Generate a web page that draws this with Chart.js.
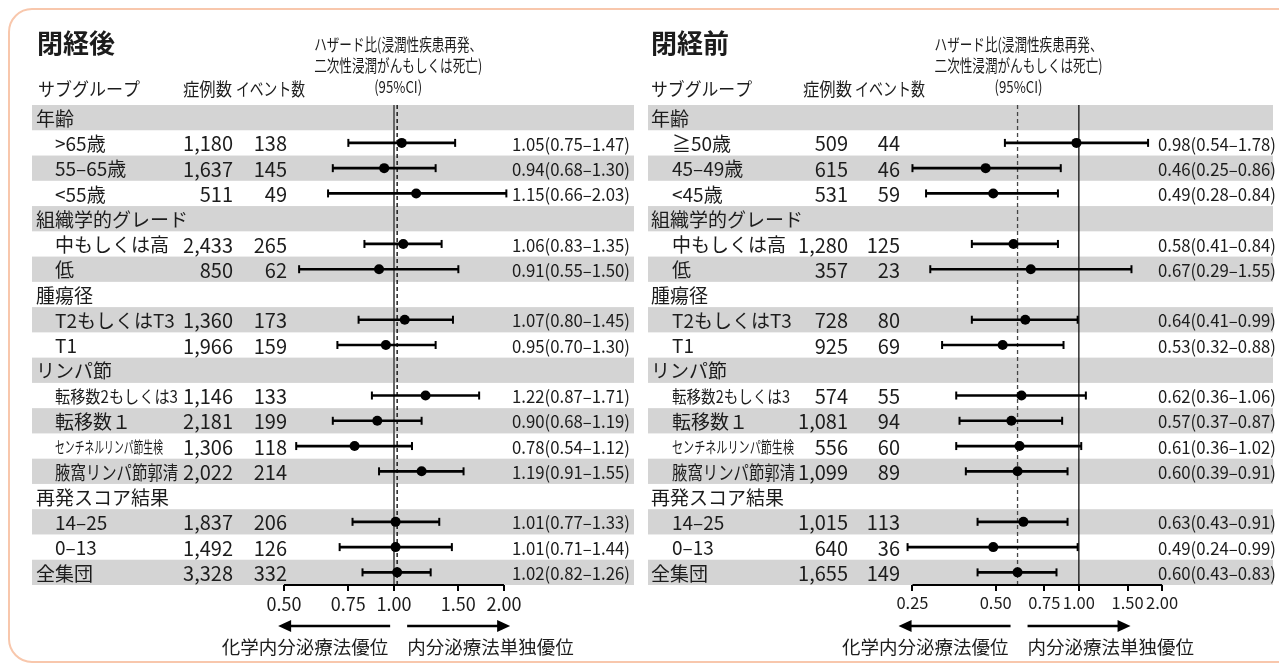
<!DOCTYPE html>
<html lang="ja">
<head>
<meta charset="utf-8">
<script src="https://cdn.jsdelivr.net/npm/chart.js@4.4.1/dist/chart.umd.min.js"></script>
<style>
  html, body { margin: 0; padding: 0; background: #fff; width: 1279px; height: 671px; overflow: hidden; }
  #frame { position: absolute; left: 8px; top: 8px; width: 1310px; height: 655px;
           border: 2px solid #f8c7ac; border-radius: 24px; box-sizing: border-box; }
  canvas { position: absolute; top: 0; display: block; }
  #post { left: 0; }
  #pre { left: 640px; }
</style>
</head>
<body>
<div id="frame"></div>
<canvas id="post" width="640" height="671"></canvas>
<canvas id="pre" width="639" height="671"></canvas>
<script>
// ---- shared row structure (0 = group heading, 1 = subgroup) ----
const rowLevel = [0, 1, 1, 1, 0, 1, 1, 0, 1, 1, 0, 1, 1, 1, 1, 0, 1, 1, 0];

// ---- 閉経後 ----
const postRows = ['年齢', '>65歳', '55–65歳', '<55歳', '組織学的グレード', '中もしくは高', '低',
  '腫瘍径', 'T2もしくはT3', 'T1', 'リンパ節', '転移数2もしくは3', '転移数１',
  'センチネルリンパ節生検', '腋窩リンパ節郭清', '再発スコア結果', '14–25', '0–13', '全集団'];
const postN      = [null, 1180, 1637, 511, null, 2433, 850, null, 1360, 1966, null, 1146, 2181, 1306, 2022, null, 1837, 1492, 3328];
const postEvents = [null, 138, 145, 49, null, 265, 62, null, 173, 159, null, 133, 199, 118, 214, null, 206, 126, 332];
const postHR     = [null, 1.05, 0.94, 1.15, null, 1.06, 0.91, null, 1.07, 0.95, null, 1.22, 0.90, 0.78, 1.19, null, 1.01, 1.01, 1.02];
const postLo     = [null, 0.75, 0.68, 0.66, null, 0.83, 0.55, null, 0.80, 0.70, null, 0.87, 0.68, 0.54, 0.91, null, 0.77, 0.71, 0.82];
const postHi     = [null, 1.47, 1.30, 2.03, null, 1.35, 1.50, null, 1.45, 1.30, null, 1.71, 1.19, 1.12, 1.55, null, 1.33, 1.44, 1.26];
const postTicks  = [0.5, 0.75, 1, 1.5, 2];

// ---- 閉経前 ----
const preRows = ['年齢', '≧50歳', '45–49歳', '<45歳', '組織学的グレード', '中もしくは高', '低',
  '腫瘍径', 'T2もしくはT3', 'T1', 'リンパ節', '転移数2もしくは3', '転移数１',
  'センチネルリンパ節生検', '腋窩リンパ節郭清', '再発スコア結果', '14–25', '0–13', '全集団'];
const preN      = [null, 509, 615, 531, null, 1280, 357, null, 728, 925, null, 574, 1081, 556, 1099, null, 1015, 640, 1655];
const preEvents = [null, 44, 46, 59, null, 125, 23, null, 80, 69, null, 55, 94, 60, 89, null, 113, 36, 149];
const preHR     = [null, 0.98, 0.46, 0.49, null, 0.58, 0.67, null, 0.64, 0.53, null, 0.62, 0.57, 0.61, 0.60, null, 0.63, 0.49, 0.60];
const preLo     = [null, 0.54, 0.25, 0.28, null, 0.41, 0.29, null, 0.41, 0.32, null, 0.36, 0.37, 0.36, 0.39, null, 0.43, 0.24, 0.43];
const preHi     = [null, 1.78, 0.86, 0.84, null, 0.84, 1.55, null, 0.99, 0.88, null, 1.06, 0.87, 1.02, 0.91, null, 0.91, 0.99, 0.83];
const preTicks  = [0.25, 0.5, 0.75, 1, 1.5, 2];

// ---- texts ----
const headerLines = ['ハザード比(浸潤性疾患再発、', '二次性浸潤がんもしくは死亡)', '(95%CI)'];
const colHeads = ['サブグループ', '症例数', 'イベント数'];
const arrowLabels = ['化学内分泌療法優位', '内分泌療法単独優位'];

const FONT = '"Noto Sans CJK JP", "Noto Sans", sans-serif';
const INK = '#1c1c1c';
const BAND = '#d4d4d4';
const CANVAS_H = 671;
const PLOT_TOP = 105;
const PLOT_BOTTOM = 585;
const AXIS_H = 40;

const fmtN = v => v.toLocaleString('en-US');
const fmtCI = (h, l, u) => `${h.toFixed(2)}(${l.toFixed(2)}–${u.toFixed(2)})`;

function text(ctx, s, x, y, font, align, maxW) {
  ctx.font = font;
  ctx.textAlign = align || 'left';
  ctx.textBaseline = 'middle';
  ctx.fillStyle = INK;
  if (maxW) ctx.fillText(s, x, y, maxW); else ctx.fillText(s, x, y);
}

function arrow(ctx, x0, x1, y) {
  const dir = Math.sign(x1 - x0);
  ctx.save();
  ctx.strokeStyle = '#000';
  ctx.fillStyle = '#000';
  ctx.lineWidth = 2.5;
  ctx.beginPath();
  ctx.moveTo(x0, y);
  ctx.lineTo(x1 - dir * 10, y);
  ctx.stroke();
  ctx.beginPath();
  ctx.moveTo(x1, y);
  ctx.lineTo(x1 - dir * 13, y - 6);
  ctx.lineTo(x1 - dir * 13, y + 6);
  ctx.closePath();
  ctx.fill();
  ctx.restore();
}

function forestPlugin(P) {
  return {
    id: 'forest',
    beforeDraw(chart) {
      const { ctx, chartArea: a, scales: { y } } = chart;
      const h = (a.bottom - a.top) / P.rows.length;
      ctx.save();
      ctx.fillStyle = BAND;
      P.rows.forEach((r, i) => {
        if (i % 2 === 0) {
          const c = y.getPixelForValue(i);
          ctx.fillRect(a.left, c - h / 2, a.right - a.left, h);
        }
      });
      ctx.restore();
    },
    beforeDatasetsDraw(chart) {
      const { ctx, chartArea: a, scales: { x } } = chart;
      const one = x.getPixelForValue(1);
      const all = x.getPixelForValue(P.hr[P.hr.length - 1]);
      ctx.save();
      ctx.strokeStyle = P.solidColor;
      ctx.lineWidth = P.solidWidth;
      ctx.beginPath();
      ctx.moveTo(one, a.top);
      ctx.lineTo(one, a.bottom);
      ctx.stroke();
      ctx.strokeStyle = P.dashColor;
      ctx.lineWidth = 1.3;
      ctx.setLineDash([4, 3]);
      ctx.beginPath();
      ctx.moveTo(all, a.top);
      ctx.lineTo(all, a.bottom);
      ctx.stroke();
      ctx.restore();
    },
    afterDraw(chart) {
      const { ctx, chartArea: a, scales: { x, y } } = chart;
      const all = x.getPixelForValue(P.hr[P.hr.length - 1]);
      ctx.save();

      // axis line across the tick range
      ctx.strokeStyle = '#000';
      ctx.lineWidth = 2;
      ctx.beginPath();
      ctx.moveTo(x.getPixelForValue(P.ticks[0]), a.bottom);
      ctx.lineTo(x.getPixelForValue(P.ticks[P.ticks.length - 1]), a.bottom);
      ctx.stroke();

      // title and column headings
      text(ctx, P.title, P.titleX, 43, `bold 26px ${FONT}`, 'left');
      headerLines.forEach((s, k) => {
        text(ctx, s, all + 1, 45 + k * 21, `16.5px ${FONT}`, 'center', k < 2 ? 168 : 48);
      });
      colHeads.forEach((s, k) => {
        text(ctx, s, P.colX[k], 89, `18px ${FONT}`, 'left', P.colW[k]);
      });

      // rows
      P.rows.forEach((r, i) => {
        const cy = y.getPixelForValue(i) + 1;
        const sub = rowLevel[i] === 1;
        const size = P.labelSize[r] || 19;
        text(ctx, r, sub ? P.subX : P.labelX, cy, `${size}px ${FONT}`, 'left', P.labelW[r]);
        if (P.n[i] != null) {
          text(ctx, fmtN(P.n[i]), P.nX, cy, `20px ${FONT}`, 'right');
          text(ctx, String(P.ev[i]), P.evX, cy, `20px ${FONT}`, 'right');
          text(ctx, fmtCI(P.hr[i], P.lo[i], P.hi[i]), P.ciX, cy, `17.5px ${FONT}`, 'right', 118);
        }
      });

      // direction arrows and captions
      arrow(ctx, all - 7, all - 119, 626);
      arrow(ctx, all + 10, all + 113, 626);
      text(ctx, arrowLabels[0], all - 9, 647, `18.5px ${FONT}`, 'right');
      text(ctx, arrowLabels[1], all + 10, 647, `18.5px ${FONT}`, 'left');
      ctx.restore();
    }
  };
}

function buildPanel(P) {
  const min = Math.pow(2, -(P.oneAt - P.left) / P.perDoubling);
  const max = Math.pow(2, (P.right - P.oneAt) / P.perDoubling);
  const ciBars = P.lo.map((l, i) => (l == null ? null : [l, P.hi[i]]));
  const caps = [];
  const points = [];
  P.rows.forEach((r, i) => {
    if (P.hr[i] == null) return;
    caps.push({ x: P.lo[i], y: r }, { x: P.hi[i], y: r });
    points.push({ x: P.hr[i], y: r });
  });

  return new Chart(document.getElementById(P.id), {
    type: 'bar',
    data: {
      labels: P.rows,
      datasets: [
        { type: 'bar', data: ciBars, backgroundColor: '#000', borderWidth: 0,
          barThickness: 2, grouped: false, order: 3 },
        { type: 'scatter', data: caps, pointStyle: 'line', rotation: 90, radius: 4,
          borderColor: '#000', borderWidth: 2, order: 2 },
        { type: 'scatter', data: points, pointStyle: 'circle', radius: 5,
          backgroundColor: '#000', borderColor: '#000', borderWidth: 0, order: 1 }
      ]
    },
    options: {
      indexAxis: 'y',
      responsive: false,
      animation: false,
      events: [],
      layout: { padding: { left: P.left, right: P.width - P.right, top: PLOT_TOP,
                           bottom: CANVAS_H - PLOT_BOTTOM - AXIS_H } },
      plugins: { legend: { display: false }, tooltip: { enabled: false } },
      scales: {
        x: {
          type: 'logarithmic', position: 'bottom', min, max, bounds: 'data',
          afterBuildTicks: s => { s.ticks = P.ticks.map(v => ({ value: v })); },
          afterFit: s => { s.height = AXIS_H; },
          ticks: { callback: v => Number(v).toFixed(2), autoSkip: false, maxRotation: 0,
                   font: { family: FONT, size: P.tickSize }, color: INK, padding: 2 },
          grid: { display: true, drawOnChartArea: false, drawTicks: true, tickLength: 6,
                  color: '#000', lineWidth: 2 },
          border: { display: false }
        },
        y: { type: 'category', display: false, offset: true }
      }
    },
    plugins: [forestPlugin(P)]
  });
}

buildPanel({
  id: 'post', width: 640, left: 32, right: 634, oneAt: 394, perDoubling: 110,
  rows: postRows, n: postN, ev: postEvents, hr: postHR, lo: postLo, hi: postHi, ticks: postTicks,
  title: '閉経後', titleX: 37, tickSize: 18,
  colX: [38, 183, 236], colW: [102, 49, 69],
  labelX: 36, subX: 55, nX: 233, evX: 287, ciX: 630,
  labelSize: { '転移数2もしくは3': 17, 'センチネルリンパ節生検': 16 },
  labelW: { '転移数2もしくは3': 123, 'センチネルリンパ節生検': 108, '腋窩リンパ節郭清': 123 },
  solidColor: '#666', solidWidth: 2, dashColor: '#000'
});

buildPanel({
  id: 'pre', width: 639, left: 8, right: 639, oneAt: 443, perDoubling: 84,
  rows: preRows, n: preN, ev: preEvents, hr: preHR, lo: preLo, hi: preHi, ticks: preTicks,
  title: '閉経前', titleX: 11, tickSize: 16.5,
  colX: [11, 163, 215], colW: [101, 49, 70],
  labelX: 11, subX: 32, nX: 208, evX: 260, ciX: 636,
  labelSize: { '転移数2もしくは3': 17, 'センチネルリンパ節生検': 16 },
  labelW: { '転移数2もしくは3': 118, 'センチネルリンパ節生検': 122, '腋窩リンパ節郭清': 123 },
  solidColor: '#111', solidWidth: 1.3, dashColor: '#444'
});
</script>
</body>
</html>
